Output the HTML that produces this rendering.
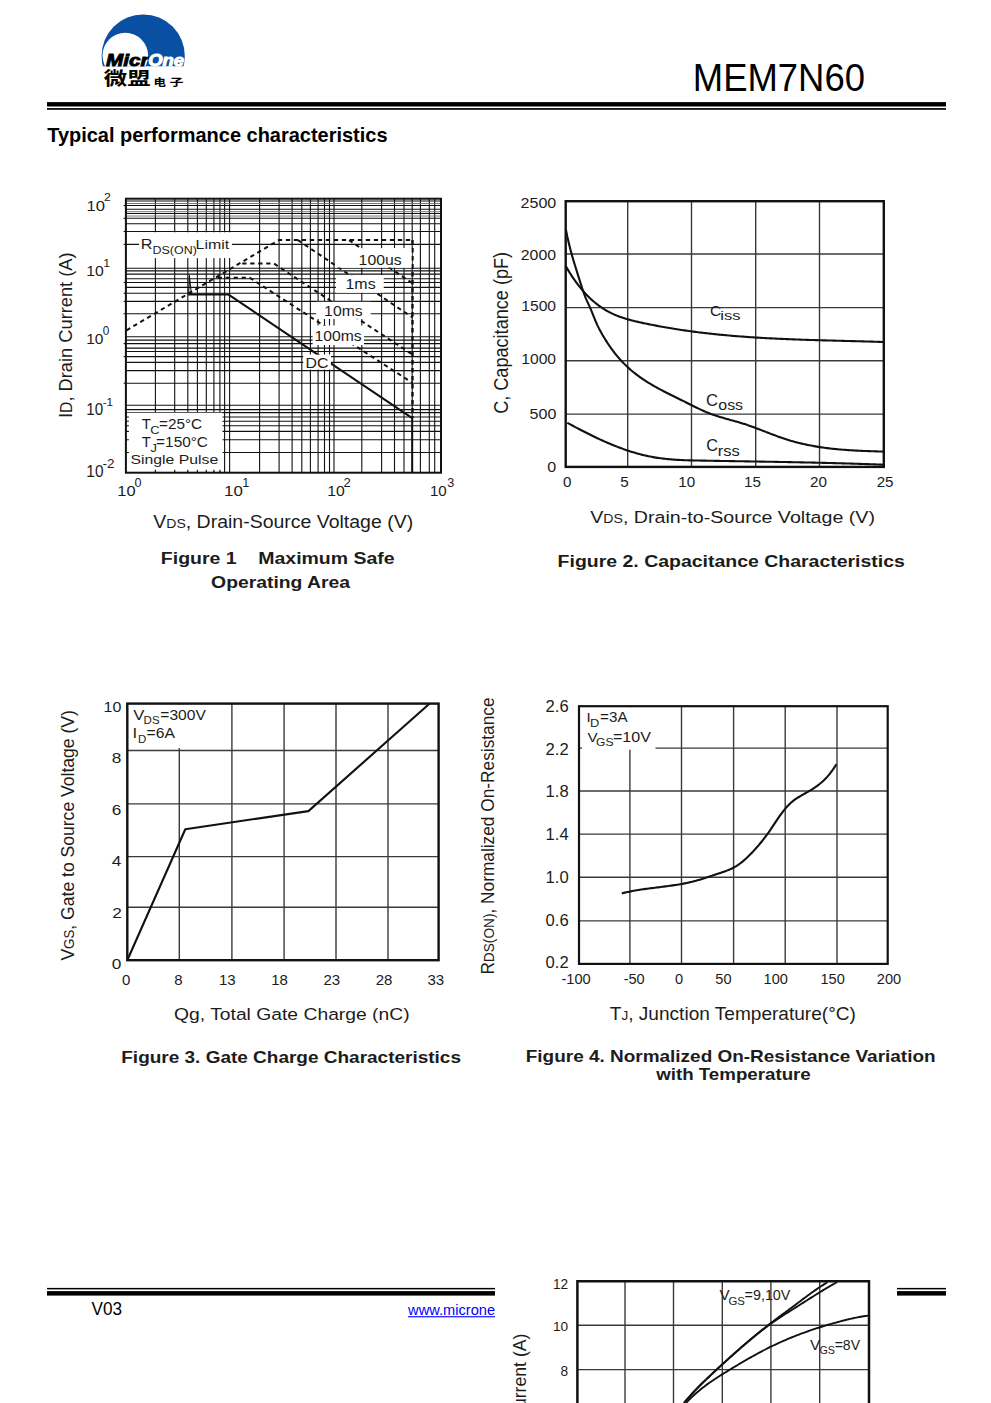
<!DOCTYPE html>
<html><head><meta charset="utf-8"><title>MEM7N60 - Typical performance characteristics</title>
<style>
html,body{margin:0;padding:0;background:#fff;}
body{width:991px;height:1403px;overflow:hidden;position:relative;}
svg{position:absolute;left:0;top:0;display:block;}
svg text{font-family:'Liberation Sans', sans-serif;fill:#1c1c1c;}
</style></head><body>
<svg width="991" height="1403" viewBox="0 0 991 1403">
<clipPath id="lc"><rect x="90" y="0" width="110" height="66.3"/></clipPath>
<g clip-path="url(#lc)"><circle cx="143.2" cy="56" r="41.6" fill="#0a50a2"/><circle cx="125.3" cy="55.5" r="22.8" fill="#fff"/></g>
<text x="106" y="66.3" font-size="17" textLength="42.5" lengthAdjust="spacingAndGlyphs" style="stroke:#000;stroke-width:0.9;font-weight:bold;font-style:italic;fill:#000;">Micr</text>
<text x="148.2" y="66.3" font-size="17" textLength="35.8" lengthAdjust="spacingAndGlyphs" style="stroke:#fff;stroke-width:1;font-weight:bold;font-style:italic;fill:#fff;">One</text>
<text x="103.8" y="85.43" font-size="18" textLength="46.87" lengthAdjust="spacingAndGlyphs" style="font-weight:bold;font-family:&quot;Liberation Sans&quot;, &quot;Noto Sans CJK SC&quot;, sans-serif;fill:#000;">微盟</text>
<text x="153.6" y="85.6" font-size="10.6" textLength="12.5" lengthAdjust="spacingAndGlyphs" style="font-weight:bold;font-family:&quot;Liberation Sans&quot;, &quot;Noto Sans CJK SC&quot;, sans-serif;fill:#000;">电</text>
<text x="169.4" y="85.6" font-size="10.6" textLength="14" lengthAdjust="spacingAndGlyphs" style="font-weight:bold;font-family:&quot;Liberation Sans&quot;, &quot;Noto Sans CJK SC&quot;, sans-serif;fill:#000;">子</text>
<text x="692.87" y="90.8" textLength="172.1" lengthAdjust="spacingAndGlyphs" style="font-size:38.14px;fill:#000;"><tspan style="font-size:38.14px">MEM7N60</tspan></text>
<rect x="47" y="102.1" width="899" height="4.4" fill="#000"/>
<rect x="47" y="108.1" width="899" height="1.7" fill="#000"/>
<text x="47.2" y="141.7" textLength="340.3" lengthAdjust="spacingAndGlyphs" style="font-size:19.47px;font-weight:bold;fill:#000;"><tspan style="font-size:19.47px">Typical performance characteristics</tspan></text>
<clipPath id="c1"><rect x="125.9" y="198.7" width="315.1" height="274"/></clipPath>
<g clip-path="url(#c1)">
<line x1="155.4" y1="198.7" x2="155.4" y2="472.7" stroke="#111" stroke-width="1.1"/>
<line x1="174.7" y1="198.7" x2="174.7" y2="472.7" stroke="#111" stroke-width="1.1"/>
<line x1="187.8" y1="198.7" x2="187.8" y2="472.7" stroke="#111" stroke-width="1.1"/>
<line x1="197.4" y1="198.7" x2="197.4" y2="472.7" stroke="#111" stroke-width="1.1"/>
<line x1="206.3" y1="198.7" x2="206.3" y2="472.7" stroke="#111" stroke-width="1.1"/>
<line x1="213.9" y1="198.7" x2="213.9" y2="472.7" stroke="#111" stroke-width="1.1"/>
<line x1="219.9" y1="198.7" x2="219.9" y2="472.7" stroke="#111" stroke-width="1.1"/>
<line x1="224.6" y1="198.7" x2="224.6" y2="472.7" stroke="#111" stroke-width="1.1"/>
<line x1="229.6" y1="198.7" x2="229.6" y2="472.7" stroke="#111" stroke-width="1.1"/>
<line x1="259.6" y1="198.7" x2="259.6" y2="472.7" stroke="#111" stroke-width="1.1"/>
<line x1="279.1" y1="198.7" x2="279.1" y2="472.7" stroke="#111" stroke-width="1.1"/>
<line x1="292.1" y1="198.7" x2="292.1" y2="472.7" stroke="#111" stroke-width="1.1"/>
<line x1="301.8" y1="198.7" x2="301.8" y2="472.7" stroke="#111" stroke-width="1.1"/>
<line x1="310.4" y1="198.7" x2="310.4" y2="472.7" stroke="#111" stroke-width="1.1"/>
<line x1="318.1" y1="198.7" x2="318.1" y2="472.7" stroke="#111" stroke-width="1.1"/>
<line x1="324.5" y1="198.7" x2="324.5" y2="472.7" stroke="#111" stroke-width="1.1"/>
<line x1="329.5" y1="198.7" x2="329.5" y2="472.7" stroke="#111" stroke-width="1.1"/>
<line x1="334" y1="198.7" x2="334" y2="472.7" stroke="#111" stroke-width="1.1"/>
<line x1="361.8" y1="198.7" x2="361.8" y2="472.7" stroke="#111" stroke-width="1.1"/>
<line x1="381.6" y1="198.7" x2="381.6" y2="472.7" stroke="#111" stroke-width="1.1"/>
<line x1="394.5" y1="198.7" x2="394.5" y2="472.7" stroke="#111" stroke-width="1.1"/>
<line x1="404" y1="198.7" x2="404" y2="472.7" stroke="#111" stroke-width="1.1"/>
<line x1="412.2" y1="198.7" x2="412.2" y2="472.7" stroke="#111" stroke-width="1.1"/>
<line x1="420.4" y1="198.7" x2="420.4" y2="472.7" stroke="#111" stroke-width="1.1"/>
<line x1="429.3" y1="198.7" x2="429.3" y2="472.7" stroke="#111" stroke-width="1.1"/>
<line x1="434.7" y1="198.7" x2="434.7" y2="472.7" stroke="#111" stroke-width="1.1"/>
<line x1="125.9" y1="201" x2="441" y2="201" stroke="#111" stroke-width="1.1"/>
<line x1="125.9" y1="203.5" x2="441" y2="203.5" stroke="#666" stroke-width="0.9"/>
<line x1="125.9" y1="205.5" x2="441" y2="205.5" stroke="#111" stroke-width="1.1"/>
<line x1="125.9" y1="209.2" x2="441" y2="209.2" stroke="#111" stroke-width="1.1"/>
<line x1="125.9" y1="211.7" x2="441" y2="211.7" stroke="#666" stroke-width="0.9"/>
<line x1="125.9" y1="213.5" x2="441" y2="213.5" stroke="#111" stroke-width="1.1"/>
<line x1="125.9" y1="216" x2="441" y2="216" stroke="#666" stroke-width="0.9"/>
<line x1="125.9" y1="218.3" x2="441" y2="218.3" stroke="#111" stroke-width="1.1"/>
<line x1="125.9" y1="223.8" x2="441" y2="223.8" stroke="#111" stroke-width="1.1"/>
<line x1="125.9" y1="231.5" x2="441" y2="231.5" stroke="#111" stroke-width="1.1"/>
<line x1="125.9" y1="244.4" x2="441" y2="244.4" stroke="#111" stroke-width="1.1"/>
<line x1="125.9" y1="268.2" x2="441" y2="268.2" stroke="#111" stroke-width="1.1"/>
<line x1="125.9" y1="270.9" x2="441" y2="270.9" stroke="#111" stroke-width="1.1"/>
<line x1="125.9" y1="274.1" x2="441" y2="274.1" stroke="#111" stroke-width="1.1"/>
<line x1="125.9" y1="278.7" x2="441" y2="278.7" stroke="#111" stroke-width="1.1"/>
<line x1="125.9" y1="282.5" x2="441" y2="282.5" stroke="#111" stroke-width="1.1"/>
<line x1="125.9" y1="287.4" x2="441" y2="287.4" stroke="#111" stroke-width="1.1"/>
<line x1="125.9" y1="293.2" x2="441" y2="293.2" stroke="#111" stroke-width="1.1"/>
<line x1="125.9" y1="301.4" x2="441" y2="301.4" stroke="#111" stroke-width="1.1"/>
<line x1="125.9" y1="313.7" x2="441" y2="313.7" stroke="#111" stroke-width="1.1"/>
<line x1="125.9" y1="336.7" x2="441" y2="336.7" stroke="#111" stroke-width="1.1"/>
<line x1="125.9" y1="340.1" x2="441" y2="340.1" stroke="#111" stroke-width="1.1"/>
<line x1="125.9" y1="343.6" x2="441" y2="343.6" stroke="#111" stroke-width="1.1"/>
<line x1="125.9" y1="348.1" x2="441" y2="348.1" stroke="#111" stroke-width="1.1"/>
<line x1="125.9" y1="351.5" x2="441" y2="351.5" stroke="#111" stroke-width="1.1"/>
<line x1="125.9" y1="356.6" x2="441" y2="356.6" stroke="#111" stroke-width="1.1"/>
<line x1="125.9" y1="362.4" x2="441" y2="362.4" stroke="#111" stroke-width="1.1"/>
<line x1="125.9" y1="370.6" x2="441" y2="370.6" stroke="#111" stroke-width="1.1"/>
<line x1="125.9" y1="383.2" x2="441" y2="383.2" stroke="#111" stroke-width="1.1"/>
<line x1="125.9" y1="405.2" x2="441" y2="405.2" stroke="#111" stroke-width="1.1"/>
<line x1="125.9" y1="409.6" x2="441" y2="409.6" stroke="#111" stroke-width="1.1"/>
<line x1="125.9" y1="412.6" x2="441" y2="412.6" stroke="#111" stroke-width="1.1"/>
<line x1="125.9" y1="417" x2="441" y2="417" stroke="#111" stroke-width="1.1"/>
<line x1="125.9" y1="421.2" x2="441" y2="421.2" stroke="#111" stroke-width="1.1"/>
<line x1="125.9" y1="425.8" x2="441" y2="425.8" stroke="#111" stroke-width="1.1"/>
<line x1="125.9" y1="431.4" x2="441" y2="431.4" stroke="#111" stroke-width="1.1"/>
<line x1="125.9" y1="439.8" x2="441" y2="439.8" stroke="#111" stroke-width="1.1"/>
<line x1="125.9" y1="452.5" x2="441" y2="452.5" stroke="#111" stroke-width="1.1"/>
<rect x="139" y="232.3" width="93" height="25.8" fill="#fff"/>
<rect x="335" y="248.3" width="76.5" height="19.2" fill="#fff"/>
<rect x="336.1" y="275.3" width="47.4" height="17.2" fill="#fff"/>
<rect x="316.4" y="301.9" width="54.1" height="16.9" fill="#fff"/>
<rect x="312.8" y="325.7" width="51.2" height="19.3" fill="#fff"/>
<rect x="303.5" y="354.7" width="27.4" height="14.6" fill="#fff"/>
<rect x="127" y="412.7" width="95.5" height="58.5" fill="#fff"/>
<line x1="155.4" y1="469.7" x2="155.4" y2="472.7" stroke="#111" stroke-width="1.1"/>
<line x1="174.7" y1="469.7" x2="174.7" y2="472.7" stroke="#111" stroke-width="1.1"/>
<line x1="187.8" y1="469.7" x2="187.8" y2="472.7" stroke="#111" stroke-width="1.1"/>
<line x1="197.4" y1="469.7" x2="197.4" y2="472.7" stroke="#111" stroke-width="1.1"/>
<line x1="206.3" y1="469.7" x2="206.3" y2="472.7" stroke="#111" stroke-width="1.1"/>
<line x1="213.9" y1="469.7" x2="213.9" y2="472.7" stroke="#111" stroke-width="1.1"/>
<line x1="219.9" y1="469.7" x2="219.9" y2="472.7" stroke="#111" stroke-width="1.1"/>
<line x1="125.9" y1="417" x2="128.9" y2="417" stroke="#111" stroke-width="1.1"/>
<line x1="125.9" y1="421.2" x2="128.9" y2="421.2" stroke="#111" stroke-width="1.1"/>
<line x1="125.9" y1="425.8" x2="128.9" y2="425.8" stroke="#111" stroke-width="1.1"/>
<line x1="125.9" y1="431.4" x2="128.9" y2="431.4" stroke="#111" stroke-width="1.1"/>
<line x1="125.9" y1="439.8" x2="128.9" y2="439.8" stroke="#111" stroke-width="1.1"/>
<line x1="125.9" y1="452.5" x2="128.9" y2="452.5" stroke="#111" stroke-width="1.1"/>
<path d="M126.5 330.3 L278.9 240.1 L412.5 240.1" fill="none" stroke="#111" stroke-width="2" stroke-linejoin="round" stroke-dasharray="4.3 3.7"/>
<path d="M349 240.1 L412.5 283.3" fill="none" stroke="#111" stroke-width="2" stroke-linejoin="round" stroke-dasharray="4.3 3.7"/>
<path d="M298 240.1 L412.5 317.5" fill="none" stroke="#111" stroke-width="2" stroke-linejoin="round" stroke-dasharray="4.3 3.7"/>
<path d="M242.2 263.6 L274 263.6 L412.5 354.6" fill="none" stroke="#111" stroke-width="2" stroke-linejoin="round" stroke-dasharray="4.3 3.7"/>
<path d="M217.6 277.7 L249.7 277.7 L412.5 382.9" fill="none" stroke="#111" stroke-width="2" stroke-linejoin="round" stroke-dasharray="4.3 3.7"/>
<path d="M412.5 240.1 L412.5 418.2" fill="none" stroke="#111" stroke-width="2.4" stroke-linejoin="round" stroke-dasharray="4.3 3.7"/>
<path d="M188.1 294.6 L228.6 294.6 L412.2 418.2 L412.2 472.7" fill="none" stroke="#111" stroke-width="2" stroke-linejoin="round"/>
<path d="M188.7 294.6 L189.3 275.2 L191.4 294" fill="none" stroke="#111" stroke-width="1.1" stroke-linejoin="round"/>
<rect x="336.1" y="275.3" width="47.4" height="17.2" fill="#fff"/>
<rect x="316.4" y="301.9" width="54.1" height="16.9" fill="#fff"/>
<rect x="312.8" y="325.7" width="51.2" height="19.3" fill="#fff"/>
<rect x="303.5" y="354.7" width="27.4" height="14.6" fill="#fff"/>
<rect x="335" y="248.3" width="76.5" height="19.2" fill="#fff"/>
</g>
<rect x="125.9" y="198.7" width="315.1" height="274" fill="none" stroke="#111" stroke-width="2"/>
<line x1="123.6" y1="205.5" x2="125.9" y2="205.5" stroke="#111" stroke-width="1.1"/>
<line x1="123.6" y1="218.3" x2="125.9" y2="218.3" stroke="#111" stroke-width="1.1"/>
<line x1="123.6" y1="231.5" x2="125.9" y2="231.5" stroke="#111" stroke-width="1.1"/>
<line x1="123.6" y1="244.4" x2="125.9" y2="244.4" stroke="#111" stroke-width="1.1"/>
<line x1="123.6" y1="282.5" x2="125.9" y2="282.5" stroke="#111" stroke-width="1.1"/>
<line x1="123.6" y1="293.2" x2="125.9" y2="293.2" stroke="#111" stroke-width="1.1"/>
<line x1="123.6" y1="301.4" x2="125.9" y2="301.4" stroke="#111" stroke-width="1.1"/>
<line x1="123.6" y1="313.7" x2="125.9" y2="313.7" stroke="#111" stroke-width="1.1"/>
<line x1="123.6" y1="343.6" x2="125.9" y2="343.6" stroke="#111" stroke-width="1.1"/>
<line x1="123.6" y1="356.6" x2="125.9" y2="356.6" stroke="#111" stroke-width="1.1"/>
<line x1="123.6" y1="383.2" x2="125.9" y2="383.2" stroke="#111" stroke-width="1.1"/>
<text x="86.45" y="210.7" textLength="18.47" lengthAdjust="spacingAndGlyphs" style="font-size:15.29px;"><tspan style="font-size:15.29px">10</tspan></text>
<text x="104.09" y="201" textLength="6.8" lengthAdjust="spacingAndGlyphs" style="font-size:11.29px;"><tspan style="font-size:11.29px">2</tspan></text>
<text x="86.22" y="275.9" textLength="17.47" lengthAdjust="spacingAndGlyphs" style="font-size:15.29px;"><tspan style="font-size:15.29px">10</tspan></text>
<text x="86.24" y="343.7" textLength="17.24" lengthAdjust="spacingAndGlyphs" style="font-size:15.43px;"><tspan style="font-size:15.43px">10</tspan></text>
<text x="102.81" y="334.7" textLength="6.56" lengthAdjust="spacingAndGlyphs" style="font-size:12px;"><tspan style="font-size:12px">0</tspan></text>
<text x="86.36" y="415.1" textLength="16.91" lengthAdjust="spacingAndGlyphs" style="font-size:15.57px;"><tspan style="font-size:15.57px">10</tspan></text>
<text x="102.71" y="405.8" textLength="10.45" lengthAdjust="spacingAndGlyphs" style="font-size:11.14px;"><tspan style="font-size:11.14px">-1</tspan></text>
<text x="86.34" y="476.9" textLength="17.13" lengthAdjust="spacingAndGlyphs" style="font-size:15.57px;"><tspan style="font-size:15.57px">10</tspan></text>
<text x="102.62" y="467.8" textLength="12.01" lengthAdjust="spacingAndGlyphs" style="font-size:12.14px;"><tspan style="font-size:12.14px">-2</tspan></text>
<text x="117.27" y="496" textLength="18.25" lengthAdjust="spacingAndGlyphs" style="font-size:15.29px;"><tspan style="font-size:15.29px">10</tspan></text>
<text x="134.47" y="486.7" textLength="7.03" lengthAdjust="spacingAndGlyphs" style="font-size:12.29px;"><tspan style="font-size:12.29px">0</tspan></text>
<text x="224.03" y="496" textLength="18.8" lengthAdjust="spacingAndGlyphs" style="font-size:15.29px;"><tspan style="font-size:15.29px">10</tspan></text>
<text x="327.32" y="495.8" textLength="17.47" lengthAdjust="spacingAndGlyphs" style="font-size:15.29px;"><tspan style="font-size:15.29px">10</tspan></text>
<text x="343.64" y="486.7" textLength="7.29" lengthAdjust="spacingAndGlyphs" style="font-size:12.43px;"><tspan style="font-size:12.43px">2</tspan></text>
<text x="429.97" y="495.8" textLength="16.8" lengthAdjust="spacingAndGlyphs" style="font-size:15.29px;"><tspan style="font-size:15.29px">10</tspan></text>
<text x="447.37" y="486.7" textLength="7.03" lengthAdjust="spacingAndGlyphs" style="font-size:12.43px;"><tspan style="font-size:12.43px">3</tspan></text>
<text x="140.69" y="248.5" textLength="11.68" lengthAdjust="spacingAndGlyphs" style="font-size:14.43px;"><tspan style="font-size:14.43px">R</tspan></text>
<text x="152.57" y="253.76" textLength="44.22" lengthAdjust="spacingAndGlyphs" style="font-size:10.21px;"><tspan style="font-size:10.21px">DS(ON)</tspan></text>
<text x="195.6" y="248.5" textLength="33.68" lengthAdjust="spacingAndGlyphs" style="font-size:13.47px;"><tspan style="font-size:13.47px">Limit</tspan></text>
<text x="358.62" y="265.2" textLength="42.97" lengthAdjust="spacingAndGlyphs" style="font-size:15.14px;"><tspan style="font-size:15.14px">100us</tspan></text>
<text x="345.5" y="289" textLength="30.12" lengthAdjust="spacingAndGlyphs" style="font-size:15.14px;"><tspan style="font-size:15.14px">1ms</tspan></text>
<text x="324.12" y="316.4" textLength="38.6" lengthAdjust="spacingAndGlyphs" style="font-size:14.43px;"><tspan style="font-size:14.43px">10ms</tspan></text>
<text x="314.42" y="341.4" textLength="47.2" lengthAdjust="spacingAndGlyphs" style="font-size:14.43px;"><tspan style="font-size:14.43px">100ms</tspan></text>
<text x="305.51" y="368.4" textLength="22.89" lengthAdjust="spacingAndGlyphs" style="font-size:14.29px;"><tspan style="font-size:14.29px">DC</tspan></text>
<text x="141.83" y="429.2" textLength="9.14" lengthAdjust="spacingAndGlyphs" style="font-size:14.29px;"><tspan style="font-size:14.29px">T</tspan></text>
<text x="150.16" y="434.4" textLength="9.24" lengthAdjust="spacingAndGlyphs" style="font-size:11.57px;"><tspan style="font-size:11.57px">C</tspan></text>
<text x="141.83" y="446.7" textLength="9.14" lengthAdjust="spacingAndGlyphs" style="font-size:14.14px;"><tspan style="font-size:14.14px">T</tspan></text>
<text x="130.51" y="464.3" textLength="87.73" lengthAdjust="spacingAndGlyphs" style="font-size:12.67px;"><tspan style="font-size:12.67px">Single Pulse</tspan></text>
<text x="103.28" y="266.7" textLength="6.8" lengthAdjust="spacingAndGlyphs" style="font-size:11.29px;"><tspan style="font-size:11.29px">1</tspan></text>
<text x="242.15" y="486.7" textLength="7.03" lengthAdjust="spacingAndGlyphs" style="font-size:12.29px;"><tspan style="font-size:12.29px">1</tspan></text>
<text x="159.03" y="429.2" textLength="43.13" lengthAdjust="spacingAndGlyphs" style="font-size:14.29px;"><tspan style="font-size:14.29px">=25°C</tspan></text>
<text x="150.48" y="451.5" textLength="6.4" lengthAdjust="spacingAndGlyphs" style="font-size:11.57px;"><tspan style="font-size:11.57px">J</tspan></text>
<text x="156.13" y="446.7" textLength="51.83" lengthAdjust="spacingAndGlyphs" style="font-size:14.14px;"><tspan style="font-size:14.14px">=150°C</tspan></text>
<text transform="translate(71.9 418.03) rotate(-90)" x="0" y="0" textLength="165.67" lengthAdjust="spacingAndGlyphs" style="font-size:18.93px;"><tspan style="font-size:18.93px">I</tspan><tspan style="font-size:16.28px">D</tspan><tspan style="font-size:18.93px">, Drain Current (A)</tspan></text>
<text x="153.3" y="528.2" textLength="259.86" lengthAdjust="spacingAndGlyphs" style="font-size:18.93px;"><tspan style="font-size:18.93px">V</tspan><tspan style="font-size:13.63px">DS</tspan><tspan style="font-size:18.93px">, Drain-Source Voltage (V)</tspan></text>
<text x="160.84" y="563.9" textLength="233.82" lengthAdjust="spacingAndGlyphs" style="font-size:17.33px;font-weight:bold;"><tspan style="font-size:17.33px">Figure 1&#160;&#160;&#160;&#160;Maximum Safe</tspan></text>
<text x="211.13" y="587.5" textLength="138.92" lengthAdjust="spacingAndGlyphs" style="font-size:17.07px;font-weight:bold;"><tspan style="font-size:17.07px">Operating Area</tspan></text>
<line x1="627.7" y1="201.2" x2="627.7" y2="466.9" stroke="#3a3a3a" stroke-width="1.4"/>
<line x1="691.5" y1="201.2" x2="691.5" y2="466.9" stroke="#3a3a3a" stroke-width="1.4"/>
<line x1="755.7" y1="201.2" x2="755.7" y2="466.9" stroke="#3a3a3a" stroke-width="1.4"/>
<line x1="819.5" y1="201.2" x2="819.5" y2="466.9" stroke="#3a3a3a" stroke-width="1.4"/>
<line x1="565.7" y1="254" x2="883.8" y2="254" stroke="#3a3a3a" stroke-width="1.4"/>
<line x1="565.7" y1="307.6" x2="883.8" y2="307.6" stroke="#3a3a3a" stroke-width="1.4"/>
<line x1="565.7" y1="360.7" x2="883.8" y2="360.7" stroke="#3a3a3a" stroke-width="1.4"/>
<line x1="565.7" y1="414.1" x2="883.8" y2="414.1" stroke="#3a3a3a" stroke-width="1.4"/>
<path d="M565.7 266.07 L567.2 268.63 L568.71 271.11 L570.21 273.51 L571.72 275.83 L573.22 278.07 L574.72 280.24 L576.23 282.32 L577.73 284.34 L579.23 286.28 L580.74 288.14 L582.24 289.94 L583.75 291.67 L585.25 293.34 L586.75 294.94 L588.26 296.47 L589.76 297.95 L591.26 299.36 L592.77 300.71 L594.27 302.01 L595.78 303.25 L597.28 304.43 L598.78 305.57 L600.29 306.65 L601.79 307.68 L603.29 308.66 L604.8 309.59 L606.3 310.49 L607.81 311.33 L609.31 312.14 L610.81 312.91 L612.32 313.64 L613.82 314.33 L615.33 314.99 L616.83 315.61 L618.33 316.2 L619.84 316.77 L621.34 317.31 L622.84 317.82 L624.35 318.3 L625.85 318.77 L627.36 319.21 L628.86 319.63 L630.36 320.04 L631.87 320.43 L633.37 320.8 L634.87 321.17 L636.38 321.52 L637.88 321.86 L639.39 322.2 L640.89 322.53 L642.39 322.86 L643.9 323.18 L645.4 323.5 L646.9 323.81 L648.41 324.12 L649.91 324.43 L651.42 324.73 L652.92 325.03 L654.42 325.32 L655.93 325.61 L657.43 325.9 L658.94 326.18 L660.44 326.46 L661.94 326.73 L663.45 327 L664.95 327.27 L666.45 327.53 L667.96 327.79 L669.46 328.04 L670.97 328.3 L672.47 328.54 L673.97 328.79 L675.48 329.03 L676.98 329.27 L678.48 329.5 L679.99 329.73 L681.49 329.96 L683 330.18 L684.5 330.4 L686 330.62 L687.51 330.83 L689.01 331.04 L690.51 331.25 L692.02 331.45 L693.52 331.65 L695.03 331.85 L696.53 332.04 L698.03 332.23 L699.54 332.42 L701.04 332.6 L702.55 332.78 L704.05 332.96 L705.55 333.14 L707.06 333.31 L708.56 333.48 L710.06 333.65 L711.57 333.81 L713.07 333.97 L714.58 334.13 L716.08 334.29 L717.58 334.44 L719.09 334.59 L720.59 334.74 L722.09 334.88 L723.6 335.03 L725.1 335.17 L726.61 335.31 L728.11 335.44 L729.61 335.57 L731.12 335.7 L732.62 335.83 L734.12 335.96 L735.63 336.08 L737.13 336.2 L738.64 336.32 L740.14 336.44 L741.64 336.55 L743.15 336.66 L744.65 336.77 L746.15 336.88 L747.66 336.99 L749.16 337.09 L750.67 337.19 L752.17 337.29 L753.67 337.39 L755.18 337.48 L756.68 337.58 L758.19 337.67 L759.69 337.76 L761.19 337.85 L762.7 337.94 L764.2 338.02 L765.7 338.1 L767.21 338.19 L768.71 338.27 L770.22 338.35 L771.72 338.42 L773.22 338.5 L774.73 338.57 L776.23 338.64 L777.73 338.71 L779.24 338.78 L780.74 338.85 L782.25 338.92 L783.75 338.98 L785.25 339.05 L786.76 339.11 L788.26 339.17 L789.76 339.23 L791.27 339.29 L792.77 339.35 L794.28 339.41 L795.78 339.47 L797.28 339.52 L798.79 339.57 L800.29 339.63 L801.8 339.68 L803.3 339.73 L804.8 339.78 L806.31 339.83 L807.81 339.88 L809.31 339.93 L810.82 339.97 L812.32 340.02 L813.83 340.07 L815.33 340.11 L816.83 340.16 L818.34 340.2 L819.84 340.24 L821.34 340.29 L822.85 340.33 L824.35 340.37 L825.86 340.41 L827.36 340.45 L828.86 340.49 L830.37 340.53 L831.87 340.57 L833.37 340.61 L834.88 340.65 L836.38 340.69 L837.89 340.73 L839.39 340.77 L840.89 340.81 L842.4 340.85 L843.9 340.89 L845.41 340.93 L846.91 340.96 L848.41 341 L849.92 341.04 L851.42 341.08 L852.92 341.12 L854.43 341.16 L855.93 341.2 L857.44 341.24 L858.94 341.28 L860.44 341.32 L861.95 341.36 L863.45 341.4 L864.95 341.44 L866.46 341.48 L867.96 341.52 L869.47 341.57 L870.97 341.61 L872.47 341.65 L873.98 341.7 L875.48 341.74 L876.98 341.79 L878.49 341.83 L879.99 341.88 L881.5 341.93 L883 341.97" fill="none" stroke="#111" stroke-width="2.1" stroke-linejoin="round"/>
<path d="M565.9 229.63 L567.4 236.97 L568.91 243.59 L570.41 249.6 L571.91 255.13 L573.41 260.31 L574.92 265.24 L576.42 270.05 L577.92 274.86 L579.43 279.67 L580.93 284.4 L582.43 288.96 L583.93 293.29 L585.44 297.29 L586.94 300.9 L588.44 304.17 L589.95 307.39 L591.45 310.85 L592.95 314.57 L594.45 318.35 L595.96 322 L597.46 325.34 L598.96 328.4 L600.47 331.24 L601.97 333.92 L603.47 336.51 L604.97 338.99 L606.48 341.39 L607.98 343.7 L609.48 345.93 L610.99 348.07 L612.49 350.14 L613.99 352.13 L615.49 354.04 L617 355.89 L618.5 357.66 L620 359.37 L621.51 361.02 L623.01 362.6 L624.51 364.13 L626.01 365.6 L627.52 367.02 L629.02 368.39 L630.52 369.71 L632.03 370.98 L633.53 372.22 L635.03 373.41 L636.53 374.57 L638.04 375.69 L639.54 376.78 L641.04 377.84 L642.55 378.87 L644.05 379.88 L645.55 380.87 L647.05 381.83 L648.56 382.77 L650.06 383.69 L651.56 384.59 L653.06 385.47 L654.57 386.33 L656.07 387.18 L657.57 388.01 L659.08 388.83 L660.58 389.64 L662.08 390.43 L663.58 391.21 L665.09 391.98 L666.59 392.75 L668.09 393.51 L669.6 394.26 L671.1 395.01 L672.6 395.75 L674.1 396.49 L675.61 397.23 L677.11 397.96 L678.61 398.7 L680.12 399.44 L681.62 400.19 L683.12 400.93 L684.62 401.68 L686.13 402.44 L687.63 403.2 L689.13 403.96 L690.64 404.72 L692.14 405.47 L693.64 406.22 L695.14 406.97 L696.65 407.7 L698.15 408.43 L699.65 409.14 L701.16 409.84 L702.66 410.53 L704.16 411.19 L705.66 411.84 L707.17 412.47 L708.67 413.08 L710.17 413.66 L711.68 414.21 L713.18 414.75 L714.68 415.27 L716.18 415.77 L717.69 416.25 L719.19 416.71 L720.69 417.17 L722.2 417.61 L723.7 418.05 L725.2 418.47 L726.7 418.89 L728.21 419.31 L729.71 419.72 L731.21 420.14 L732.72 420.55 L734.22 420.97 L735.72 421.39 L737.22 421.82 L738.73 422.25 L740.23 422.7 L741.73 423.16 L743.24 423.63 L744.74 424.12 L746.24 424.61 L747.74 425.13 L749.25 425.65 L750.75 426.18 L752.25 426.73 L753.76 427.28 L755.26 427.84 L756.76 428.4 L758.26 428.97 L759.77 429.55 L761.27 430.13 L762.77 430.71 L764.28 431.29 L765.78 431.87 L767.28 432.46 L768.78 433.04 L770.29 433.62 L771.79 434.19 L773.29 434.76 L774.8 435.32 L776.3 435.88 L777.8 436.43 L779.3 436.97 L780.81 437.51 L782.31 438.03 L783.81 438.54 L785.32 439.03 L786.82 439.52 L788.32 439.99 L789.82 440.44 L791.33 440.89 L792.83 441.32 L794.33 441.74 L795.84 442.14 L797.34 442.54 L798.84 442.92 L800.34 443.29 L801.85 443.64 L803.35 443.99 L804.85 444.33 L806.35 444.65 L807.86 444.96 L809.36 445.27 L810.86 445.56 L812.37 445.84 L813.87 446.11 L815.37 446.38 L816.87 446.63 L818.38 446.88 L819.88 447.11 L821.38 447.34 L822.89 447.55 L824.39 447.76 L825.89 447.96 L827.39 448.16 L828.9 448.34 L830.4 448.52 L831.9 448.69 L833.41 448.85 L834.91 449.01 L836.41 449.16 L837.91 449.3 L839.42 449.44 L840.92 449.57 L842.42 449.69 L843.93 449.81 L845.43 449.92 L846.93 450.03 L848.43 450.13 L849.94 450.23 L851.44 450.32 L852.94 450.41 L854.45 450.5 L855.95 450.58 L857.45 450.66 L858.95 450.73 L860.46 450.8 L861.96 450.87 L863.46 450.93 L864.97 450.99 L866.47 451.05 L867.97 451.11 L869.47 451.16 L870.98 451.21 L872.48 451.26 L873.98 451.31 L875.49 451.36 L876.99 451.41 L878.49 451.46 L879.99 451.5 L881.5 451.55 L883 451.59" fill="none" stroke="#111" stroke-width="2.1" stroke-linejoin="round"/>
<path d="M567.3 422.82 L568.8 423.63 L570.31 424.44 L571.81 425.25 L573.31 426.05 L574.82 426.85 L576.32 427.64 L577.82 428.43 L579.33 429.22 L580.83 429.99 L582.33 430.77 L583.84 431.54 L585.34 432.3 L586.84 433.06 L588.35 433.81 L589.85 434.56 L591.35 435.29 L592.86 436.03 L594.36 436.75 L595.86 437.47 L597.37 438.18 L598.87 438.88 L600.37 439.58 L601.88 440.26 L603.38 440.94 L604.88 441.61 L606.39 442.27 L607.89 442.92 L609.39 443.56 L610.9 444.19 L612.4 444.82 L613.9 445.43 L615.41 446.03 L616.91 446.62 L618.41 447.2 L619.92 447.77 L621.42 448.33 L622.92 448.88 L624.43 449.42 L625.93 449.94 L627.43 450.45 L628.94 450.95 L630.44 451.44 L631.94 451.91 L633.45 452.37 L634.95 452.82 L636.45 453.26 L637.96 453.68 L639.46 454.09 L640.96 454.48 L642.47 454.86 L643.97 455.22 L645.47 455.57 L646.98 455.9 L648.48 456.22 L649.98 456.53 L651.49 456.82 L652.99 457.1 L654.49 457.36 L656 457.61 L657.5 457.84 L659 458.07 L660.51 458.28 L662.01 458.47 L663.51 458.66 L665.02 458.83 L666.52 458.99 L668.02 459.14 L669.53 459.28 L671.03 459.41 L672.53 459.53 L674.04 459.64 L675.54 459.74 L677.04 459.83 L678.55 459.92 L680.05 460 L681.55 460.07 L683.06 460.13 L684.56 460.19 L686.06 460.24 L687.57 460.29 L689.07 460.33 L690.57 460.37 L692.08 460.41 L693.58 460.44 L695.08 460.48 L696.59 460.5 L698.09 460.53 L699.59 460.56 L701.1 460.59 L702.6 460.62 L704.1 460.64 L705.61 460.67 L707.11 460.7 L708.61 460.72 L710.12 460.75 L711.62 460.78 L713.12 460.8 L714.63 460.83 L716.13 460.85 L717.63 460.88 L719.14 460.9 L720.64 460.93 L722.14 460.96 L723.65 460.98 L725.15 461.01 L726.65 461.03 L728.16 461.06 L729.66 461.08 L731.16 461.11 L732.67 461.13 L734.17 461.16 L735.67 461.18 L737.18 461.21 L738.68 461.23 L740.18 461.26 L741.69 461.28 L743.19 461.31 L744.69 461.33 L746.2 461.36 L747.7 461.38 L749.2 461.41 L750.71 461.43 L752.21 461.46 L753.71 461.48 L755.22 461.51 L756.72 461.53 L758.22 461.56 L759.73 461.59 L761.23 461.61 L762.73 461.64 L764.24 461.66 L765.74 461.69 L767.24 461.72 L768.75 461.74 L770.25 461.77 L771.75 461.8 L773.26 461.82 L774.76 461.85 L776.26 461.88 L777.77 461.9 L779.27 461.93 L780.77 461.96 L782.28 461.99 L783.78 462.02 L785.28 462.04 L786.79 462.07 L788.29 462.1 L789.79 462.13 L791.3 462.16 L792.8 462.19 L794.3 462.22 L795.81 462.25 L797.31 462.28 L798.81 462.31 L800.32 462.34 L801.82 462.37 L803.32 462.4 L804.83 462.44 L806.33 462.47 L807.83 462.5 L809.34 462.53 L810.84 462.57 L812.34 462.6 L813.85 462.63 L815.35 462.67 L816.85 462.7 L818.36 462.74 L819.86 462.77 L821.36 462.81 L822.87 462.84 L824.37 462.88 L825.87 462.92 L827.38 462.96 L828.88 462.99 L830.38 463.03 L831.89 463.07 L833.39 463.11 L834.89 463.15 L836.4 463.19 L837.9 463.23 L839.4 463.27 L840.91 463.31 L842.41 463.35 L843.91 463.4 L845.42 463.44 L846.92 463.48 L848.42 463.53 L849.93 463.57 L851.43 463.62 L852.93 463.66 L854.44 463.71 L855.94 463.76 L857.44 463.8 L858.95 463.85 L860.45 463.9 L861.95 463.95 L863.46 464 L864.96 464.05 L866.46 464.1 L867.97 464.15 L869.47 464.2 L870.97 464.26 L872.48 464.31 L873.98 464.36 L875.48 464.42 L876.99 464.47 L878.49 464.53 L879.99 464.59 L881.5 464.64 L883 464.7" fill="none" stroke="#111" stroke-width="2.1" stroke-linejoin="round"/>
<rect x="565.7" y="201.2" width="318.1" height="265.7" fill="none" stroke="#111" stroke-width="2.4"/>
<text x="520.6" y="207.8" textLength="35.7" lengthAdjust="spacingAndGlyphs" style="font-size:15.14px;"><tspan style="font-size:15.14px">2500</tspan></text>
<text x="520.81" y="259.6" textLength="35.28" lengthAdjust="spacingAndGlyphs" style="font-size:15.14px;"><tspan style="font-size:15.14px">2000</tspan></text>
<text x="521.22" y="310.9" textLength="34.86" lengthAdjust="spacingAndGlyphs" style="font-size:15.43px;"><tspan style="font-size:15.43px">1500</tspan></text>
<text x="678.36" y="486.8" textLength="16.91" lengthAdjust="spacingAndGlyphs" style="font-size:15.29px;"><tspan style="font-size:15.29px">10</tspan></text>
<text x="710.12" y="315.8" textLength="11.21" lengthAdjust="spacingAndGlyphs" style="font-size:15.29px;"><tspan style="font-size:15.29px">C</tspan></text>
<text x="720.25" y="320.4" textLength="20.32" lengthAdjust="spacingAndGlyphs" style="font-size:13.6px;"><tspan style="font-size:13.6px">iss</tspan></text>
<text x="706.07" y="405.8" textLength="12.02" lengthAdjust="spacingAndGlyphs" style="font-size:15.57px;"><tspan style="font-size:15.57px">C</tspan></text>
<text x="718.3" y="410.2" textLength="24.79" lengthAdjust="spacingAndGlyphs" style="font-size:14.91px;"><tspan style="font-size:14.91px">oss</tspan></text>
<text x="706.28" y="451" textLength="11.79" lengthAdjust="spacingAndGlyphs" style="font-size:15.86px;"><tspan style="font-size:15.86px">C</tspan></text>
<text x="717.66" y="455.6" textLength="21.98" lengthAdjust="spacingAndGlyphs" style="font-size:15.27px;"><tspan style="font-size:15.27px">rss</tspan></text>
<text x="521.22" y="363.9" textLength="34.86" lengthAdjust="spacingAndGlyphs" style="font-size:15.43px;"><tspan style="font-size:15.43px">1000</tspan></text>
<text x="529.62" y="418.6" textLength="26.78" lengthAdjust="spacingAndGlyphs" style="font-size:15.14px;"><tspan style="font-size:15.14px">500</tspan></text>
<text x="547.28" y="471.8" textLength="8.93" lengthAdjust="spacingAndGlyphs" style="font-size:15.14px;"><tspan style="font-size:15.14px">0</tspan></text>
<text x="562.98" y="486.8" textLength="8.46" lengthAdjust="spacingAndGlyphs" style="font-size:15.29px;"><tspan style="font-size:15.29px">0</tspan></text>
<text x="620.33" y="486.8" textLength="8.46" lengthAdjust="spacingAndGlyphs" style="font-size:15.29px;"><tspan style="font-size:15.29px">5</tspan></text>
<text x="744.11" y="486.8" textLength="16.91" lengthAdjust="spacingAndGlyphs" style="font-size:15.29px;"><tspan style="font-size:15.29px">15</tspan></text>
<text x="810.05" y="486.8" textLength="16.91" lengthAdjust="spacingAndGlyphs" style="font-size:15.29px;"><tspan style="font-size:15.29px">20</tspan></text>
<text x="876.65" y="486.8" textLength="16.91" lengthAdjust="spacingAndGlyphs" style="font-size:15.29px;"><tspan style="font-size:15.29px">25</tspan></text>
<text transform="translate(507.7 413.8) rotate(-90)" x="0" y="0" textLength="161.83" lengthAdjust="spacingAndGlyphs" style="font-size:19.47px;"><tspan style="font-size:19.47px">C, Capacitance (pF)</tspan></text>
<text x="590.2" y="522.8" textLength="284.81" lengthAdjust="spacingAndGlyphs" style="font-size:17.2px;"><tspan style="font-size:17.2px">V</tspan><tspan style="font-size:12.38px">DS</tspan><tspan style="font-size:17.2px">, Drain-to-Source Voltage (V)</tspan></text>
<text x="557.64" y="567" textLength="347.26" lengthAdjust="spacingAndGlyphs" style="font-size:17.2px;font-weight:bold;"><tspan style="font-size:17.2px">Figure 2. Capacitance Characteristics</tspan></text>
<line x1="179.3" y1="703.6" x2="179.3" y2="960.2" stroke="#3a3a3a" stroke-width="1.4"/>
<line x1="231.9" y1="703.6" x2="231.9" y2="960.2" stroke="#3a3a3a" stroke-width="1.4"/>
<line x1="284.1" y1="703.6" x2="284.1" y2="960.2" stroke="#3a3a3a" stroke-width="1.4"/>
<line x1="336" y1="703.6" x2="336" y2="960.2" stroke="#3a3a3a" stroke-width="1.4"/>
<line x1="388" y1="703.6" x2="388" y2="960.2" stroke="#3a3a3a" stroke-width="1.4"/>
<line x1="127.3" y1="750.5" x2="438.6" y2="750.5" stroke="#3a3a3a" stroke-width="1.4"/>
<line x1="127.3" y1="803.9" x2="438.6" y2="803.9" stroke="#3a3a3a" stroke-width="1.4"/>
<line x1="127.3" y1="856.6" x2="438.6" y2="856.6" stroke="#3a3a3a" stroke-width="1.4"/>
<line x1="127.3" y1="907.3" x2="438.6" y2="907.3" stroke="#3a3a3a" stroke-width="1.4"/>
<rect x="128.3" y="704.6" width="79" height="43.5" fill="#fff"/>
<path d="M127.4 960 L185.3 829.2 L308.4 811.1 L429.4 703.8" fill="none" stroke="#111" stroke-width="2.1" stroke-linejoin="round"/>
<rect x="127.3" y="703.6" width="311.3" height="256.6" fill="none" stroke="#111" stroke-width="2.4"/>
<text x="103.5" y="711.8" textLength="17.8" lengthAdjust="spacingAndGlyphs" style="font-size:15.29px;"><tspan style="font-size:15.29px">10</tspan></text>
<text x="111.84" y="763.4" textLength="9.6" lengthAdjust="spacingAndGlyphs" style="font-size:15px;"><tspan style="font-size:15px">8</tspan></text>
<text x="218.88" y="984.5" textLength="16.69" lengthAdjust="spacingAndGlyphs" style="font-size:15.14px;"><tspan style="font-size:15.14px">13</tspan></text>
<text x="133.2" y="719.5" textLength="11.19" lengthAdjust="spacingAndGlyphs" style="font-size:13.86px;"><tspan style="font-size:13.86px">V</tspan></text>
<text x="143.64" y="723.6" textLength="15.91" lengthAdjust="spacingAndGlyphs" style="font-size:10.43px;"><tspan style="font-size:10.43px">DS</tspan></text>
<text x="160.32" y="719.5" textLength="45.48" lengthAdjust="spacingAndGlyphs" style="font-size:13.86px;"><tspan style="font-size:13.86px">=300V</tspan></text>
<text x="146.62" y="738.1" textLength="28.3" lengthAdjust="spacingAndGlyphs" style="font-size:14.43px;"><tspan style="font-size:14.43px">=6A</tspan></text>
<text x="111.84" y="814.7" textLength="9.6" lengthAdjust="spacingAndGlyphs" style="font-size:15px;"><tspan style="font-size:15px">6</tspan></text>
<text x="111.84" y="866.3" textLength="9.6" lengthAdjust="spacingAndGlyphs" style="font-size:15px;"><tspan style="font-size:15px">4</tspan></text>
<text x="112.27" y="917.6" textLength="9.6" lengthAdjust="spacingAndGlyphs" style="font-size:15px;"><tspan style="font-size:15px">2</tspan></text>
<text x="111.84" y="968.6" textLength="9.6" lengthAdjust="spacingAndGlyphs" style="font-size:15px;"><tspan style="font-size:15px">0</tspan></text>
<text x="121.94" y="984.5" textLength="8.34" lengthAdjust="spacingAndGlyphs" style="font-size:15.14px;"><tspan style="font-size:15.14px">0</tspan></text>
<text x="174.24" y="984.5" textLength="8.34" lengthAdjust="spacingAndGlyphs" style="font-size:15.14px;"><tspan style="font-size:15.14px">8</tspan></text>
<text x="271.18" y="984.5" textLength="16.69" lengthAdjust="spacingAndGlyphs" style="font-size:15.14px;"><tspan style="font-size:15.14px">18</tspan></text>
<text x="323.51" y="984.5" textLength="16.69" lengthAdjust="spacingAndGlyphs" style="font-size:15.14px;"><tspan style="font-size:15.14px">23</tspan></text>
<text x="375.71" y="984.5" textLength="16.69" lengthAdjust="spacingAndGlyphs" style="font-size:15.14px;"><tspan style="font-size:15.14px">28</tspan></text>
<text x="427.46" y="984.5" textLength="16.69" lengthAdjust="spacingAndGlyphs" style="font-size:15.14px;"><tspan style="font-size:15.14px">33</tspan></text>
<text x="132.53" y="738.1" textLength="4.66" lengthAdjust="spacingAndGlyphs" style="font-size:13.86px;"><tspan style="font-size:13.86px">I</tspan></text>
<text x="138.04" y="742.9" textLength="8.27" lengthAdjust="spacingAndGlyphs" style="font-size:10.43px;"><tspan style="font-size:10.43px">D</tspan></text>
<text transform="translate(73.8 960.6) rotate(-90)" x="0" y="0" textLength="250.47" lengthAdjust="spacingAndGlyphs" style="font-size:18.4px;"><tspan style="font-size:18.4px">V</tspan><tspan style="font-size:13.98px">GS</tspan><tspan style="font-size:18.4px">, Gate to Source Voltage (V)</tspan></text>
<text x="174.04" y="1020.3" textLength="235.62" lengthAdjust="spacingAndGlyphs" style="font-size:16.53px;"><tspan style="font-size:16.53px">Qg, Total Gate Charge (nC)</tspan></text>
<text x="121.28" y="1062.8" textLength="339.69" lengthAdjust="spacingAndGlyphs" style="font-size:16.93px;font-weight:bold;"><tspan style="font-size:16.93px">Figure 3. Gate Charge Characteristics</tspan></text>
<line x1="629.9" y1="706.2" x2="629.9" y2="963.9" stroke="#3a3a3a" stroke-width="1.4"/>
<line x1="681.5" y1="706.2" x2="681.5" y2="963.9" stroke="#3a3a3a" stroke-width="1.4"/>
<line x1="733.6" y1="706.2" x2="733.6" y2="963.9" stroke="#3a3a3a" stroke-width="1.4"/>
<line x1="785.2" y1="706.2" x2="785.2" y2="963.9" stroke="#3a3a3a" stroke-width="1.4"/>
<line x1="837" y1="706.2" x2="837" y2="963.9" stroke="#3a3a3a" stroke-width="1.4"/>
<line x1="579" y1="748.1" x2="887.7" y2="748.1" stroke="#3a3a3a" stroke-width="1.4"/>
<line x1="579" y1="791" x2="887.7" y2="791" stroke="#3a3a3a" stroke-width="1.4"/>
<line x1="579" y1="834.1" x2="887.7" y2="834.1" stroke="#3a3a3a" stroke-width="1.4"/>
<line x1="579" y1="877.2" x2="887.7" y2="877.2" stroke="#3a3a3a" stroke-width="1.4"/>
<line x1="579" y1="920.9" x2="887.7" y2="920.9" stroke="#3a3a3a" stroke-width="1.4"/>
<rect x="582" y="707.2" width="73.5" height="42.5" fill="#fff"/>
<path d="M621.8 893.37 L623.3 893 L624.8 892.64 L626.3 892.3 L627.8 891.97 L629.3 891.66 L630.8 891.35 L632.3 891.07 L633.81 890.79 L635.31 890.52 L636.81 890.26 L638.31 890.02 L639.81 889.78 L641.31 889.55 L642.81 889.32 L644.31 889.11 L645.81 888.9 L647.31 888.69 L648.81 888.49 L650.31 888.3 L651.81 888.11 L653.31 887.92 L654.82 887.73 L656.32 887.54 L657.82 887.36 L659.32 887.17 L660.82 886.98 L662.32 886.8 L663.82 886.61 L665.32 886.41 L666.82 886.22 L668.32 886.02 L669.82 885.81 L671.32 885.6 L672.82 885.38 L674.32 885.16 L675.83 884.93 L677.33 884.69 L678.83 884.44 L680.33 884.18 L681.83 883.92 L683.33 883.64 L684.83 883.35 L686.33 883.04 L687.83 882.73 L689.33 882.4 L690.83 882.05 L692.33 881.69 L693.83 881.32 L695.33 880.93 L696.83 880.52 L698.34 880.1 L699.84 879.66 L701.34 879.22 L702.84 878.76 L704.34 878.29 L705.84 877.81 L707.34 877.32 L708.84 876.83 L710.34 876.33 L711.84 875.82 L713.34 875.31 L714.84 874.8 L716.34 874.29 L717.84 873.77 L719.35 873.25 L720.85 872.74 L722.35 872.22 L723.85 871.71 L725.35 871.18 L726.85 870.62 L728.35 870.04 L729.85 869.41 L731.35 868.74 L732.85 868 L734.35 867.2 L735.85 866.33 L737.35 865.38 L738.85 864.36 L740.36 863.27 L741.86 862.1 L743.36 860.86 L744.86 859.56 L746.36 858.19 L747.86 856.77 L749.36 855.3 L750.86 853.79 L752.36 852.24 L753.86 850.64 L755.36 849 L756.86 847.31 L758.36 845.58 L759.86 843.8 L761.37 841.97 L762.87 840.09 L764.37 838.16 L765.87 836.18 L767.37 834.13 L768.87 832.04 L770.37 829.88 L771.87 827.66 L773.37 825.41 L774.87 823.14 L776.37 820.87 L777.87 818.65 L779.37 816.47 L780.87 814.37 L782.37 812.34 L783.88 810.41 L785.38 808.56 L786.88 806.82 L788.38 805.2 L789.88 803.69 L791.38 802.32 L792.88 801.07 L794.38 799.93 L795.88 798.88 L797.38 797.9 L798.88 796.98 L800.38 796.08 L801.88 795.21 L803.38 794.35 L804.89 793.5 L806.39 792.66 L807.89 791.8 L809.39 790.93 L810.89 790.03 L812.39 789.11 L813.89 788.14 L815.39 787.14 L816.89 786.08 L818.39 784.96 L819.89 783.78 L821.39 782.52 L822.89 781.17 L824.39 779.74 L825.9 778.22 L827.4 776.59 L828.9 774.85 L830.4 772.98 L831.9 771 L833.4 768.88 L834.9 766.62 L836.4 764.21" fill="none" stroke="#111" stroke-width="2.1" stroke-linejoin="round"/>
<rect x="579" y="706.2" width="308.7" height="257.7" fill="none" stroke="#111" stroke-width="2.2"/>
<text x="545.57" y="711.9" textLength="23.1" lengthAdjust="spacingAndGlyphs" style="font-size:15.57px;"><tspan style="font-size:15.57px">2.6</tspan></text>
<text x="820.51" y="984" textLength="24.33" lengthAdjust="spacingAndGlyphs" style="font-size:15.29px;"><tspan style="font-size:15.29px">150</tspan></text>
<text x="590.14" y="726.7" textLength="9.27" lengthAdjust="spacingAndGlyphs" style="font-size:11.57px;"><tspan style="font-size:11.57px">D</tspan></text>
<text x="600.14" y="721.8" textLength="27.37" lengthAdjust="spacingAndGlyphs" style="font-size:13.71px;"><tspan style="font-size:13.71px">=3A</tspan></text>
<text x="587.5" y="741.5" textLength="10.16" lengthAdjust="spacingAndGlyphs" style="font-size:13.57px;"><tspan style="font-size:13.57px">V</tspan></text>
<text x="596.1" y="746.1" textLength="17.45" lengthAdjust="spacingAndGlyphs" style="font-size:11.57px;"><tspan style="font-size:11.57px">GS</tspan></text>
<text x="612.9" y="741.5" textLength="38.02" lengthAdjust="spacingAndGlyphs" style="font-size:14px;"><tspan style="font-size:14px">=10V</tspan></text>
<text x="545.57" y="754.6" textLength="23.1" lengthAdjust="spacingAndGlyphs" style="font-size:15.57px;"><tspan style="font-size:15.57px">2.2</tspan></text>
<text x="545.57" y="797.3" textLength="23.1" lengthAdjust="spacingAndGlyphs" style="font-size:15.57px;"><tspan style="font-size:15.57px">1.8</tspan></text>
<text x="545.57" y="840.1" textLength="23.1" lengthAdjust="spacingAndGlyphs" style="font-size:15.57px;"><tspan style="font-size:15.57px">1.4</tspan></text>
<text x="545.57" y="882.8" textLength="23.1" lengthAdjust="spacingAndGlyphs" style="font-size:15.57px;"><tspan style="font-size:15.57px">1.0</tspan></text>
<text x="545.57" y="925.5" textLength="23.1" lengthAdjust="spacingAndGlyphs" style="font-size:15.57px;"><tspan style="font-size:15.57px">0.6</tspan></text>
<text x="545.57" y="968.2" textLength="23.1" lengthAdjust="spacingAndGlyphs" style="font-size:15.57px;"><tspan style="font-size:15.57px">0.2</tspan></text>
<text x="561.49" y="984" textLength="29.18" lengthAdjust="spacingAndGlyphs" style="font-size:15.29px;"><tspan style="font-size:15.29px">-100</tspan></text>
<text x="623.63" y="984" textLength="21.07" lengthAdjust="spacingAndGlyphs" style="font-size:15.29px;"><tspan style="font-size:15.29px">-50</tspan></text>
<text x="674.96" y="984" textLength="8.11" lengthAdjust="spacingAndGlyphs" style="font-size:15.29px;"><tspan style="font-size:15.29px">0</tspan></text>
<text x="715.35" y="984" textLength="16.22" lengthAdjust="spacingAndGlyphs" style="font-size:15.29px;"><tspan style="font-size:15.29px">50</tspan></text>
<text x="763.61" y="984" textLength="24.33" lengthAdjust="spacingAndGlyphs" style="font-size:15.29px;"><tspan style="font-size:15.29px">100</tspan></text>
<text x="876.84" y="984" textLength="24.33" lengthAdjust="spacingAndGlyphs" style="font-size:15.29px;"><tspan style="font-size:15.29px">200</tspan></text>
<text x="586.47" y="721.8" textLength="4.24" lengthAdjust="spacingAndGlyphs" style="font-size:13.57px;"><tspan style="font-size:13.57px">I</tspan></text>
<text transform="translate(493.7 974.6) rotate(-90)" x="0" y="0" textLength="277.2" lengthAdjust="spacingAndGlyphs" style="font-size:17.73px;"><tspan style="font-size:17.73px">R</tspan><tspan style="font-size:14.01px">DS(ON)</tspan><tspan style="font-size:17.73px">, Normalized On-Resistance</tspan></text>
<text x="609.82" y="1019.6" textLength="246.09" lengthAdjust="spacingAndGlyphs" style="font-size:17.47px;"><tspan style="font-size:17.47px">T</tspan><tspan style="font-size:12.4px">J</tspan><tspan style="font-size:17.47px">, Junction Temperature(°C)</tspan></text>
<text x="525.78" y="1061.7" textLength="409.8" lengthAdjust="spacingAndGlyphs" style="font-size:17.07px;font-weight:bold;"><tspan style="font-size:17.07px">Figure 4. Normalized On-Resistance Variation</tspan></text>
<text x="656.2" y="1080" textLength="154.57" lengthAdjust="spacingAndGlyphs" style="font-size:16.53px;font-weight:bold;"><tspan style="font-size:16.53px">with Temperature</tspan></text>
<rect x="47" y="1287.9" width="448" height="1.5" fill="#000"/>
<rect x="47" y="1291.1" width="448" height="4.5" fill="#000"/>
<rect x="897" y="1287.9" width="49" height="1.5" fill="#000"/>
<rect x="897" y="1291.1" width="49" height="4.5" fill="#000"/>
<text x="91.5" y="1314.5" textLength="30.5" lengthAdjust="spacingAndGlyphs" style="font-size:17.57px;fill:#000;"><tspan style="font-size:17.57px">V03</tspan></text>
<text x="408.1" y="1314.9" font-size="15" textLength="87" lengthAdjust="spacingAndGlyphs" style="fill:#0000ff;">www.microne</text>
<rect x="408.1" y="1316.2" width="87" height="1.1" fill="#0000ff"/>
<rect x="495" y="1268" width="402" height="136" fill="#fff"/>
<line x1="625" y1="1281.3" x2="625" y2="1403" stroke="#3a3a3a" stroke-width="1.4"/>
<line x1="673.5" y1="1281.3" x2="673.5" y2="1403" stroke="#3a3a3a" stroke-width="1.4"/>
<line x1="722.3" y1="1281.3" x2="722.3" y2="1403" stroke="#3a3a3a" stroke-width="1.4"/>
<line x1="770.9" y1="1281.3" x2="770.9" y2="1403" stroke="#3a3a3a" stroke-width="1.4"/>
<line x1="819.7" y1="1281.3" x2="819.7" y2="1403" stroke="#3a3a3a" stroke-width="1.4"/>
<line x1="577.4" y1="1325.2" x2="869" y2="1325.2" stroke="#3a3a3a" stroke-width="1.4"/>
<line x1="577.4" y1="1369.6" x2="869" y2="1369.6" stroke="#3a3a3a" stroke-width="1.4"/>
<path d="M684 1402.97 L685.51 1401.12 L687.02 1399.32 L688.53 1397.56 L690.04 1395.84 L691.55 1394.16 L693.06 1392.51 L694.57 1390.9 L696.08 1389.31 L697.59 1387.76 L699.09 1386.23 L700.6 1384.73 L702.11 1383.25 L703.62 1381.78 L705.13 1380.34 L706.64 1378.9 L708.15 1377.48 L709.66 1376.07 L711.17 1374.67 L712.68 1373.27 L714.19 1371.88 L715.7 1370.5 L717.21 1369.11 L718.72 1367.73 L720.23 1366.36 L721.74 1364.98 L723.25 1363.61 L724.76 1362.24 L726.27 1360.87 L727.77 1359.5 L729.28 1358.14 L730.79 1356.78 L732.3 1355.42 L733.81 1354.07 L735.32 1352.72 L736.83 1351.38 L738.34 1350.04 L739.85 1348.71 L741.36 1347.38 L742.87 1346.06 L744.38 1344.74 L745.89 1343.43 L747.4 1342.13 L748.91 1340.84 L750.42 1339.55 L751.93 1338.27 L753.44 1337.01 L754.95 1335.75 L756.45 1334.49 L757.96 1333.25 L759.47 1332.02 L760.98 1330.8 L762.49 1329.59 L764 1328.39 L765.51 1327.21 L767.02 1326.03 L768.53 1324.86 L770.04 1323.7 L771.55 1322.54 L773.06 1321.4 L774.57 1320.26 L776.08 1319.12 L777.59 1317.99 L779.1 1316.87 L780.61 1315.74 L782.12 1314.62 L783.63 1313.5 L785.13 1312.39 L786.64 1311.27 L788.15 1310.15 L789.66 1309.03 L791.17 1307.91 L792.68 1306.79 L794.19 1305.66 L795.7 1304.53 L797.21 1303.4 L798.72 1302.27 L800.23 1301.14 L801.74 1300.01 L803.25 1298.88 L804.76 1297.76 L806.27 1296.65 L807.78 1295.54 L809.29 1294.44 L810.8 1293.35 L812.31 1292.27 L813.81 1291.2 L815.32 1290.14 L816.83 1289.1 L818.34 1288.08 L819.85 1287.07 L821.36 1286.08 L822.87 1285.1 L824.38 1284.15 L825.89 1283.22 L827.4 1282.31" fill="none" stroke="#111" stroke-width="1.9" stroke-linejoin="round"/>
<path d="M684 1402.88 L685.5 1401.13 L687 1399.42 L688.5 1397.73 L690 1396.06 L691.5 1394.42 L693.01 1392.81 L694.51 1391.22 L696.01 1389.65 L697.51 1388.1 L699.01 1386.57 L700.51 1385.05 L702.01 1383.56 L703.51 1382.07 L705.01 1380.6 L706.51 1379.14 L708.02 1377.7 L709.52 1376.26 L711.02 1374.83 L712.52 1373.4 L714.02 1371.99 L715.52 1370.58 L717.02 1369.17 L718.52 1367.78 L720.02 1366.39 L721.52 1365 L723.03 1363.62 L724.53 1362.25 L726.03 1360.89 L727.53 1359.53 L729.03 1358.17 L730.53 1356.83 L732.03 1355.49 L733.53 1354.15 L735.03 1352.82 L736.53 1351.49 L738.04 1350.18 L739.54 1348.87 L741.04 1347.56 L742.54 1346.27 L744.04 1344.98 L745.54 1343.7 L747.04 1342.43 L748.54 1341.17 L750.04 1339.92 L751.54 1338.68 L753.05 1337.45 L754.55 1336.23 L756.05 1335.02 L757.55 1333.82 L759.05 1332.64 L760.55 1331.46 L762.05 1330.3 L763.55 1329.15 L765.05 1328.02 L766.55 1326.9 L768.05 1325.79 L769.56 1324.7 L771.06 1323.62 L772.56 1322.56 L774.06 1321.52 L775.56 1320.48 L777.06 1319.46 L778.56 1318.45 L780.06 1317.45 L781.56 1316.46 L783.06 1315.48 L784.57 1314.51 L786.07 1313.54 L787.57 1312.58 L789.07 1311.63 L790.57 1310.68 L792.07 1309.73 L793.57 1308.78 L795.07 1307.84 L796.57 1306.89 L798.07 1305.95 L799.58 1305 L801.08 1304.06 L802.58 1303.1 L804.08 1302.15 L805.58 1301.2 L807.08 1300.25 L808.58 1299.29 L810.08 1298.34 L811.58 1297.39 L813.08 1296.44 L814.59 1295.5 L816.09 1294.56 L817.59 1293.62 L819.09 1292.69 L820.59 1291.76 L822.09 1290.84 L823.59 1289.93 L825.09 1289.02 L826.59 1288.13 L828.09 1287.24 L829.6 1286.36 L831.1 1285.49 L832.6 1284.64 L834.1 1283.79 L835.6 1282.96 L837.1 1282.14" fill="none" stroke="#111" stroke-width="1.9" stroke-linejoin="round"/>
<path d="M686.1 1402.89 L687.6 1401.31 L689.11 1399.78 L690.61 1398.29 L692.12 1396.84 L693.62 1395.44 L695.13 1394.08 L696.63 1392.75 L698.14 1391.46 L699.64 1390.21 L701.15 1388.98 L702.65 1387.79 L704.16 1386.63 L705.66 1385.5 L707.17 1384.39 L708.67 1383.31 L710.18 1382.25 L711.68 1381.21 L713.19 1380.18 L714.69 1379.18 L716.2 1378.19 L717.7 1377.22 L719.21 1376.25 L720.71 1375.3 L722.22 1374.36 L723.72 1373.42 L725.23 1372.49 L726.73 1371.57 L728.24 1370.65 L729.74 1369.73 L731.25 1368.82 L732.75 1367.91 L734.26 1367.01 L735.76 1366.1 L737.27 1365.21 L738.77 1364.31 L740.28 1363.42 L741.78 1362.54 L743.29 1361.66 L744.79 1360.78 L746.3 1359.91 L747.8 1359.05 L749.31 1358.19 L750.81 1357.34 L752.32 1356.49 L753.82 1355.65 L755.33 1354.82 L756.83 1354 L758.34 1353.18 L759.84 1352.37 L761.35 1351.57 L762.85 1350.78 L764.36 1350 L765.86 1349.22 L767.37 1348.46 L768.87 1347.7 L770.38 1346.95 L771.88 1346.22 L773.39 1345.49 L774.89 1344.77 L776.4 1344.07 L777.9 1343.37 L779.41 1342.68 L780.91 1342 L782.42 1341.33 L783.92 1340.67 L785.43 1340.02 L786.93 1339.38 L788.44 1338.74 L789.94 1338.12 L791.45 1337.5 L792.95 1336.89 L794.46 1336.29 L795.96 1335.7 L797.47 1335.11 L798.97 1334.54 L800.48 1333.97 L801.98 1333.41 L803.49 1332.86 L804.99 1332.31 L806.5 1331.77 L808 1331.24 L809.51 1330.72 L811.01 1330.2 L812.52 1329.69 L814.02 1329.19 L815.53 1328.69 L817.03 1328.2 L818.54 1327.72 L820.04 1327.24 L821.55 1326.77 L823.05 1326.31 L824.56 1325.85 L826.06 1325.4 L827.57 1324.95 L829.07 1324.51 L830.58 1324.07 L832.08 1323.64 L833.59 1323.21 L835.09 1322.79 L836.6 1322.38 L838.1 1321.97 L839.61 1321.56 L841.11 1321.16 L842.62 1320.77 L844.12 1320.38 L845.63 1320 L847.13 1319.63 L848.64 1319.27 L850.14 1318.92 L851.65 1318.57 L853.15 1318.24 L854.66 1317.92 L856.16 1317.61 L857.67 1317.31 L859.17 1317.03 L860.68 1316.76 L862.18 1316.5 L863.69 1316.26 L865.19 1316.04 L866.7 1315.83 L868.2 1315.64" fill="none" stroke="#111" stroke-width="1.9" stroke-linejoin="round"/>
<path d="M577.4 1403 V1281.3 H869 V1403" fill="none" stroke="#111" stroke-width="2.5"/>
<text x="719.4" y="1299.9" textLength="10.16" lengthAdjust="spacingAndGlyphs" style="font-size:15px;"><tspan style="font-size:15px">V</tspan></text>
<text x="728.43" y="1304.7" textLength="16.48" lengthAdjust="spacingAndGlyphs" style="font-size:11px;"><tspan style="font-size:11px">GS</tspan></text>
<text x="744.58" y="1299.9" textLength="45.78" lengthAdjust="spacingAndGlyphs" style="font-size:15px;"><tspan style="font-size:15px">=9,10V</tspan></text>
<text x="810" y="1349.5" textLength="10.26" lengthAdjust="spacingAndGlyphs" style="font-size:14.29px;"><tspan style="font-size:14.29px">V</tspan></text>
<text x="819.46" y="1354.4" textLength="15.52" lengthAdjust="spacingAndGlyphs" style="font-size:11px;"><tspan style="font-size:11px">GS</tspan></text>
<text x="834.7" y="1349.5" textLength="25.3" lengthAdjust="spacingAndGlyphs" style="font-size:14.29px;"><tspan style="font-size:14.29px">=8V</tspan></text>
<text x="552.97" y="1288.9" textLength="15.24" lengthAdjust="spacingAndGlyphs" style="font-size:13.86px;"><tspan style="font-size:13.86px">12</tspan></text>
<text x="552.97" y="1330.9" textLength="15.24" lengthAdjust="spacingAndGlyphs" style="font-size:13.43px;"><tspan style="font-size:13.43px">10</tspan></text>
<text x="560.51" y="1376.1" textLength="7.62" lengthAdjust="spacingAndGlyphs" style="font-size:13.86px;"><tspan style="font-size:13.86px">8</tspan></text>
<text transform="translate(526.13 1493.71) rotate(-90)" x="0" y="0" textLength="160.21" lengthAdjust="spacingAndGlyphs" style="font-size:18.31px"><tspan style="font-size:18.31px">I</tspan><tspan style="font-size:15.75px">D</tspan><tspan style="font-size:18.31px">, Drain Current (A)</tspan></text>
</svg>
</body></html>
